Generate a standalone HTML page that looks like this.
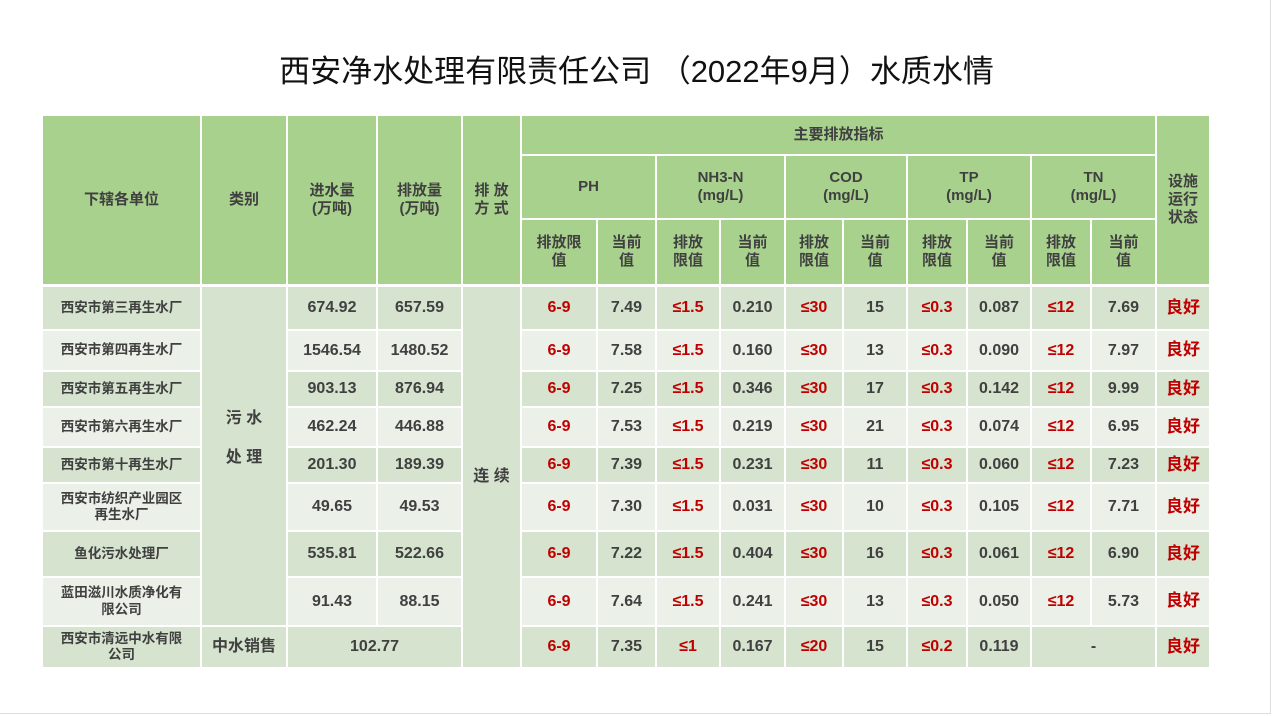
<!DOCTYPE html>
<html><head><meta charset="utf-8">
<style>
body{margin:0;width:1273px;height:716px;background:#fff;position:relative;overflow:hidden;font-family:"Liberation Sans","Noto Sans CJK SC",sans-serif;}
#frame{position:absolute;left:0;top:0;width:1270px;height:713px;border-right:1px solid #ddd;border-bottom:1px solid #ddd;}
#title{position:absolute;left:0;width:1273px;top:46px;text-align:center;font-size:31px;color:#111;}
.c{position:absolute;display:flex;align-items:center;justify-content:center;text-align:center;font-weight:bold;color:#404040;box-sizing:border-box;line-height:1.2;}
.h{background:#a9d18e;font-size:15px;}
.d{background:#d6e3cf;font-size:16px;}
.l{background:#ebf1e9;font-size:16px;}
.n{font-size:13.5px;}
.r{color:#c00000;}
</style></head><body>
<div id="frame"></div>
<div id="title">西安净水处理有限责任公司 （2022年9月）水质水情</div>
<div id="tbl"></div>
<script>
const units=["西安市第三再生水厂","西安市第四再生水厂","西安市第五再生水厂","西安市第六再生水厂","西安市第十再生水厂","西安市纺织产业园区<br>再生水厂","鱼化污水处理厂","蓝田滋川水质净化有<br>限公司","西安市清远中水有限<br>公司"];
const inflow=["674.92","1546.54","903.13","462.24","201.30","49.65","535.81","91.43","102.77"];
const outflow=["657.59","1480.52","876.94","446.88","189.39","49.53","522.66","88.15",""];
const phLim=["6-9","6-9","6-9","6-9","6-9","6-9","6-9","6-9","6-9"];
const ph=["7.49","7.58","7.25","7.53","7.39","7.30","7.22","7.64","7.35"];
const nhLim=["≤1.5","≤1.5","≤1.5","≤1.5","≤1.5","≤1.5","≤1.5","≤1.5","≤1"];
const nh=["0.210","0.160","0.346","0.219","0.231","0.031","0.404","0.241","0.167"];
const codLim=["≤30","≤30","≤30","≤30","≤30","≤30","≤30","≤30","≤20"];
const cod=["15","13","17","21","11","10","16","13","15"];
const tpLim=["≤0.3","≤0.3","≤0.3","≤0.3","≤0.3","≤0.3","≤0.3","≤0.3","≤0.2"];
const tp=["0.087","0.090","0.142","0.074","0.060","0.105","0.061","0.050","0.119"];
const tnLim=["≤12","≤12","≤12","≤12","≤12","≤12","≤12","≤12",""];
const tn=["7.69","7.97","9.99","6.95","7.23","7.71","6.90","5.73","-"];
const status=["良好","良好","良好","良好","良好","良好","良好","良好","良好"];

const xs=[43,202,288,378,463,522,598,657,721,786,844,908,968,1032,1092,1157,1211];
const ys=[287,331,372,408,448,484,532,578,627,669];
const tbl=document.getElementById('tbl');
function cell(c0,c1,y0,y1,html,cls,name){
  const el=document.createElement('div');
  el.className='c '+cls;
  el.style.left=xs[c0]+'px';el.style.top=y0+'px';
  el.style.width=(xs[c1]-xs[c0]-2)+'px';el.style.height=(y1-y0-2)+'px';
  el.innerHTML=html;
  
  
  tbl.appendChild(el);return el;
}
// header
cell(0,1,116,286,'下辖各单位','h','header-unit');
cell(1,2,116,286,'类别','h','header-category');
cell(2,3,116,286,'进水量<br>(万吨)','h','header-inflow');
cell(3,4,116,286,'排放量<br>(万吨)','h','header-outflow');
cell(4,5,116,286,'排 放<br>方 式','h','header-discharge-mode');
cell(5,15,116,156,'主要排放指标','h','header-main-indicators');
cell(15,16,116,286,'设施<br>运行<br>状态','h','header-status');
const groups=['PH','NH3-N<br>(mg/L)','COD<br>(mg/L)','TP<br>(mg/L)','TN<br>(mg/L)'];
const gnames=['ph','nh3n','cod','tp','tn'];
for(let g=0;g<5;g++){
  cell(5+2*g,7+2*g,156,220,groups[g],'h','header-'+gnames[g]);
  cell(5+2*g,6+2*g,220,286,g==0?'排放限<br>值':'排放<br>限值','h','header-'+gnames[g]+'-limit');
  cell(6+2*g,7+2*g,220,286,'当前<br>值','h','header-'+gnames[g]+'-current');
}
// body
const lims=[phLim,nhLim,codLim,tpLim,tnLim], vals=[ph,nh,cod,tp,tn];
for(let i=0;i<9;i++){
  const b=(i%2==0)?'d':'l', y0=ys[i], y1=ys[i+1];
  cell(0,1,y0,y1,units[i],b+' n','unit-name');
  if(i<8){
    cell(2,3,y0,y1,inflow[i],b,'inflow-value');
    cell(3,4,y0,y1,outflow[i],b,'outflow-value');
  }else{
    cell(1,2,y0,y1,'中水销售','d','category-reclaimed-sales');
    cell(2,4,y0,y1,inflow[i],b,'reclaimed-sales-value');
  }
  for(let g=0;g<5;g++){
    if(i==8&&g==4){cell(13,15,y0,y1,vals[g][i],b,'tn-value');continue;}
    cell(5+2*g,6+2*g,y0,y1,lims[g][i],b+' r','limit-'+gnames[g]);
    cell(6+2*g,7+2*g,y0,y1,vals[g][i],b,'current-'+gnames[g]);
  }
  cell(15,16,y0,y1,status[i],b+' r','status-value').style.fontSize='17px';
}
cell(1,2,ys[0],ys[8],'污 水<br><br>处 理','d','category-sewage').style.paddingBottom='36px';
cell(4,5,ys[0],ys[9],'连 续','d','discharge-continuous');
</script>
</body></html>
